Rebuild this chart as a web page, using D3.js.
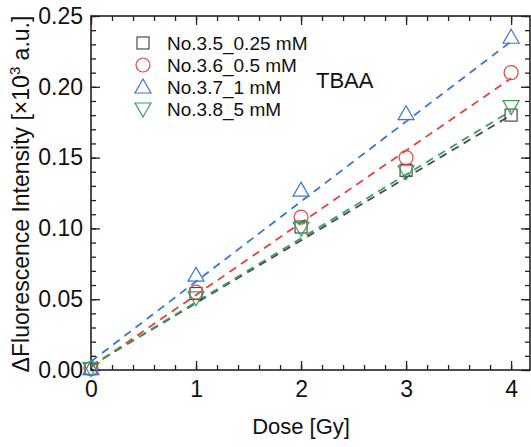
<!DOCTYPE html>
<html>
<head>
<meta charset="utf-8">
<script src="https://cdn.jsdelivr.net/npm/d3@7"></script>
<style>
  body { margin: 0; background: #fff; }
  text { font-family: "Liberation Sans", Arial, sans-serif; }
</style>
</head>
<body>
<div id="chart"></div>
<script>
// data
const doses = [0, 1, 2, 3, 4];
const seriesNames = ["No.3.5_0.25 mM", "No.3.6_0.5 mM", "No.3.7_1 mM", "No.3.8_5 mM"];
const valsA = [0.001, 0.054, 0.101, 0.141, 0.180];
const valsB = [0.001, 0.055, 0.108, 0.150, 0.210];
const valsC = [0.001, 0.067, 0.127, 0.181, 0.235];
const valsD = [0.001, 0.051, 0.100, 0.140, 0.186];
// dashed fit lines, value at dose 0 and dose 4
const fitStart = [0.003, 0.002, 0.006, 0.003];
const fitEnd = [0.180, 0.206, 0.232, 0.183];
const colors = ["#4a4a4a", "#e8403f", "#3b76d4", "#3aa05a"];
const symbols = ["square", "circle", "up", "down"];
const xTicks = [0, 1, 2, 3, 4];
const yTicks = [0.00, 0.05, 0.10, 0.15, 0.20, 0.25];

const allVals = [valsA, valsB, valsC, valsD];

const W = 531, H = 447;
const margin = {top: 16, right: 1, bottom: 77, left: 91};
const width = W - margin.left - margin.right,
    height = H - margin.top - margin.bottom;

const svg = d3.select("#chart")
    .append("svg")
    .attr("width", W)
    .attr("height", H);

const g = svg.append("g")
    .attr("transform", "translate(" + margin.left + "," + margin.top + ")");

const x = d3.scaleLinear().domain([0, 4.18]).range([0, width]);
const y = d3.scaleLinear().domain([0, 0.25]).range([height, 0]);

// minor ticks
const xMinor = d3.range(0, 4.19, 0.2);
const yMinor = d3.range(0, 0.2501, 0.01);

// bottom axis (ticks inside)
g.append("g")
    .attr("transform", "translate(0," + height + ")")
    .call(d3.axisBottom(x).tickValues(xMinor).tickSize(-5).tickFormat(""))
    .call(a => a.select(".domain").remove());
g.append("g")
    .attr("class", "xaxis")
    .attr("transform", "translate(0," + height + ")")
    .call(d3.axisBottom(x).tickValues(xTicks).tickSize(-9).tickPadding(11).tickFormat(d3.format("d")))
    .call(a => a.select(".domain").remove());

// top axis
g.append("g")
    .call(d3.axisTop(x).tickValues(xMinor).tickSize(-5).tickFormat(""))
    .call(a => a.select(".domain").remove());
g.append("g")
    .call(d3.axisTop(x).tickValues(xTicks).tickSize(-9).tickFormat(""))
    .call(a => a.select(".domain").remove());

// left axis
g.append("g")
    .call(d3.axisLeft(y).tickValues(yMinor).tickSize(-5).tickFormat(""))
    .call(a => a.select(".domain").remove());
g.append("g")
    .attr("class", "yaxis")
    .call(d3.axisLeft(y).tickValues(yTicks).tickSize(-9).tickPadding(8).tickFormat(d3.format(".2f")))
    .call(a => a.select(".domain").remove());

// right axis
g.append("g")
    .attr("transform", "translate(" + width + ",0)")
    .call(d3.axisRight(y).tickValues(yMinor).tickSize(-5).tickFormat(""))
    .call(a => a.select(".domain").remove());
g.append("g")
    .attr("transform", "translate(" + width + ",0)")
    .call(d3.axisRight(y).tickValues(yTicks).tickSize(-9).tickFormat(""))
    .call(a => a.select(".domain").remove());

g.selectAll(".tick line").attr("stroke", "#222").attr("stroke-width", 1.3);
g.selectAll(".xaxis text, .yaxis text")
    .attr("fill", "#111")
    .style("font-size", "23px")
    .style("font-family", "'Liberation Sans', Arial, sans-serif");

// frame
g.append("rect")
    .attr("width", width)
    .attr("height", height)
    .attr("fill", "none")
    .attr("stroke", "#222")
    .attr("stroke-width", 1.6);

// fit lines
seriesNames.forEach((name, i) => {
    g.append("line")
        .attr("x1", x(doses[0]))
        .attr("y1", y(fitStart[i]))
        .attr("x2", x(doses[doses.length - 1]))
        .attr("y2", y(fitEnd[i]))
        .attr("stroke", colors[i])
        .attr("stroke-width", 1.8)
        .attr("stroke-dasharray", "8,6");
});

// marker drawing
function drawMarker(sel, type, color) {
    if (type === "square") {
        sel.append("rect").attr("x", -6).attr("y", -6).attr("width", 12).attr("height", 12)
            .attr("fill", "none").attr("stroke", color).attr("stroke-width", 1.2);
    } else if (type === "circle") {
        sel.append("circle").attr("r", 7)
            .attr("fill", "none").attr("stroke", color).attr("stroke-width", 1.2);
    } else if (type === "up") {
        sel.append("path").attr("d", "M0,-8L8,6L-8,6Z")
            .attr("fill", "none").attr("stroke", color).attr("stroke-width", 1.2);
    } else {
        sel.append("path").attr("d", "M0,8L8,-6L-8,-6Z")
            .attr("fill", "none").attr("stroke", color).attr("stroke-width", 1.2);
    }
}

allVals.forEach((vals, i) => {
    vals.forEach((v, j) => {
        const m = g.append("g")
            .attr("transform", "translate(" + x(doses[j]) + "," + y(v) + ")");
        drawMarker(m, symbols[i], colors[i]);
    });
});

// legend
const legend = g.append("g").attr("transform", "translate(52,27)");
seriesNames.forEach((name, i) => {
    const row = legend.append("g").attr("transform", "translate(0," + (i * 22) + ")");
    drawMarker(row, symbols[i], colors[i]);
    row.append("text")
        .attr("x", 24)
        .attr("y", 7)
        .attr("fill", "#111")
        .style("font-size", "19px")
        .text(name);
});

g.append("text")
    .attr("x", 225)
    .attr("y", 72)
    .attr("fill", "#111")
    .style("font-size", "22px")
    .text("TBAA");

// axis titles
svg.append("text")
    .attr("x", margin.left + x(2))
    .attr("y", 434)
    .attr("text-anchor", "middle")
    .attr("fill", "#111")
    .style("font-size", "22px")
    .text("Dose [Gy]");

svg.append("text")
    .attr("transform", "translate(29," + (margin.top + height / 2 + 1) + ")rotate(-90)")
    .attr("text-anchor", "middle")
    .attr("fill", "#111")
    .style("font-size", "23px")
    .html("ΔFluorescence Intensity [×10<tspan dy='-9' font-size='15px'>3</tspan><tspan dy='9'> a.u.]</tspan>");
</script>
</body>
</html>
